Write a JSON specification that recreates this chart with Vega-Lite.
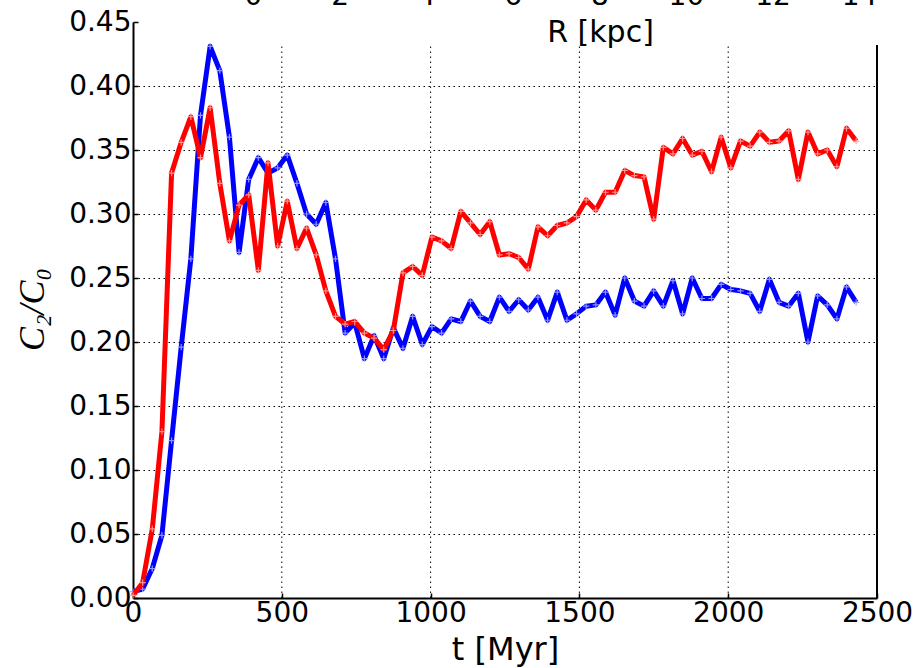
{
  "$schema": "https://vega.github.io/schema/vega-lite/v6.json",
  "width": 744,
  "height": 576,
  "autosize": {"type": "none"},
  "padding": {"left": 133, "top": 22, "right": 44, "bottom": 70},
  "background": "white",
  "config": {"font": "DejaVu Sans", "view": {"stroke": null}},
  "datasets": {
    "c2c0": [
      {"t": 0, "blue": 0.005, "red": 0.002},
      {"t": 32.4, "blue": 0.007, "red": 0.012},
      {"t": 64.8, "blue": 0.023, "red": 0.054},
      {"t": 97.2, "blue": 0.049, "red": 0.130},
      {"t": 129.6, "blue": 0.123, "red": 0.332},
      {"t": 162, "blue": 0.196, "red": 0.356},
      {"t": 194.4, "blue": 0.265, "red": 0.376},
      {"t": 226.8, "blue": 0.377, "red": 0.344},
      {"t": 259.2, "blue": 0.431, "red": 0.383},
      {"t": 291.6, "blue": 0.412, "red": 0.324},
      {"t": 324, "blue": 0.360, "red": 0.279},
      {"t": 356.4, "blue": 0.270, "red": 0.307},
      {"t": 388.8, "blue": 0.327, "red": 0.315},
      {"t": 421.2, "blue": 0.344, "red": 0.256},
      {"t": 453.6, "blue": 0.332, "red": 0.340},
      {"t": 486, "blue": 0.336, "red": 0.275},
      {"t": 518.4, "blue": 0.346, "red": 0.310},
      {"t": 550.8, "blue": 0.324, "red": 0.273},
      {"t": 583.2, "blue": 0.300, "red": 0.289},
      {"t": 615.6, "blue": 0.292, "red": 0.268},
      {"t": 648, "blue": 0.309, "red": 0.240},
      {"t": 680.4, "blue": 0.265, "red": 0.220},
      {"t": 712.8, "blue": 0.207, "red": 0.214},
      {"t": 745.2, "blue": 0.215, "red": 0.216},
      {"t": 777.6, "blue": 0.187, "red": 0.207},
      {"t": 810, "blue": 0.205, "red": 0.203},
      {"t": 842.4, "blue": 0.187, "red": 0.194},
      {"t": 874.8, "blue": 0.211, "red": 0.209},
      {"t": 907.2, "blue": 0.195, "red": 0.254},
      {"t": 939.6, "blue": 0.220, "red": 0.259},
      {"t": 972, "blue": 0.198, "red": 0.252},
      {"t": 1004.4, "blue": 0.212, "red": 0.282},
      {"t": 1036.8, "blue": 0.207, "red": 0.279},
      {"t": 1069.2, "blue": 0.218, "red": 0.273},
      {"t": 1101.6, "blue": 0.216, "red": 0.302},
      {"t": 1134, "blue": 0.232, "red": 0.293},
      {"t": 1166.4, "blue": 0.220, "red": 0.284},
      {"t": 1198.8, "blue": 0.216, "red": 0.294},
      {"t": 1231.2, "blue": 0.235, "red": 0.268},
      {"t": 1263.6, "blue": 0.224, "red": 0.269},
      {"t": 1296, "blue": 0.233, "red": 0.266},
      {"t": 1328.4, "blue": 0.225, "red": 0.257},
      {"t": 1360.8, "blue": 0.235, "red": 0.290},
      {"t": 1393.2, "blue": 0.217, "red": 0.283},
      {"t": 1425.6, "blue": 0.239, "red": 0.291},
      {"t": 1458, "blue": 0.217, "red": 0.293},
      {"t": 1490.4, "blue": 0.222, "red": 0.298},
      {"t": 1522.8, "blue": 0.228, "red": 0.311},
      {"t": 1555.2, "blue": 0.229, "red": 0.303},
      {"t": 1587.6, "blue": 0.239, "red": 0.317},
      {"t": 1620, "blue": 0.221, "red": 0.317},
      {"t": 1652.4, "blue": 0.250, "red": 0.334},
      {"t": 1684.8, "blue": 0.232, "red": 0.330},
      {"t": 1717.2, "blue": 0.228, "red": 0.329},
      {"t": 1749.6, "blue": 0.240, "red": 0.296},
      {"t": 1782, "blue": 0.228, "red": 0.352},
      {"t": 1814.4, "blue": 0.248, "red": 0.347},
      {"t": 1846.8, "blue": 0.222, "red": 0.359},
      {"t": 1879.2, "blue": 0.250, "red": 0.346},
      {"t": 1911.6, "blue": 0.234, "red": 0.349},
      {"t": 1944, "blue": 0.234, "red": 0.333},
      {"t": 1976.4, "blue": 0.245, "red": 0.360},
      {"t": 2008.8, "blue": 0.241, "red": 0.336},
      {"t": 2041.2, "blue": 0.240, "red": 0.357},
      {"t": 2073.6, "blue": 0.238, "red": 0.353},
      {"t": 2106, "blue": 0.224, "red": 0.364},
      {"t": 2138.4, "blue": 0.249, "red": 0.356},
      {"t": 2170.8, "blue": 0.231, "red": 0.357},
      {"t": 2203.2, "blue": 0.228, "red": 0.365},
      {"t": 2235.6, "blue": 0.238, "red": 0.327},
      {"t": 2268, "blue": 0.200, "red": 0.364},
      {"t": 2300.4, "blue": 0.236, "red": 0.347},
      {"t": 2332.8, "blue": 0.229, "red": 0.350},
      {"t": 2365.2, "blue": 0.218, "red": 0.337},
      {"t": 2397.6, "blue": 0.243, "red": 0.367},
      {"t": 2430, "blue": 0.231, "red": 0.357}
    ],
    "vgrid": [{"t": 500}, {"t": 1000}, {"t": 1500}, {"t": 2000}],
    "rspine": [{"t": 2500}],
    "raxis": [{"R": 0}, {"R": 2}, {"R": 4}, {"R": 6}, {"R": 8}, {"R": 10}, {"R": 12}, {"R": 14}]
  },
  "layer": [
    {
      "layer": [
        {
          "data": {"name": "vgrid"},
          "mark": {"type": "rule", "color": "black", "strokeWidth": 1, "strokeDash": [1.5, 3.5]},
          "encoding": {
            "x": {
              "field": "t", "type": "quantitative", "title": "t [Myr]",
              "scale": {"domain": [0, 2500], "nice": false, "zero": false},
              "axis": {
                "values": [0, 500, 1000, 1500, 2000, 2500],
                "format": "d",
                "grid": false,
                "labelFontSize": 28, "labelColor": "black", "labelFlush": false, "labelOverlap": false, "labelBound": false,
                "labelPadding": 6,
                "ticks": true, "tickSize": -5, "tickColor": "black", "tickWidth": 1.5,
                "domainColor": "black", "domainWidth": 2,
                "titleFontSize": 32, "titleFontWeight": "normal", "titleColor": "black",
                "titleBaseline": "alphabetic", "titleY": 61, "titleX": 372, "titleAlign": "center"
              }
            },
            "y": {
              "datum": 0, "type": "quantitative", "title": "C₂/C₀",
              "scale": {"domain": [0, 0.45], "nice": false, "zero": false},
              "axis": {
                "values": [0, 0.05, 0.1, 0.15, 0.2, 0.25, 0.3, 0.35, 0.4, 0.45],
                "format": ".2f",
                "labelFontSize": 28, "labelColor": "black", "labelFlush": false, "labelOverlap": false, "labelBound": false,
                "labelPadding": 7,
                "ticks": true, "tickSize": -5, "tickColor": "black", "tickWidth": 1.5,
                "domainColor": "black", "domainWidth": 2,
                "grid": true, "gridColor": "black", "gridWidth": 1, "gridDash": [1.5, 3.5],
                "gridOpacity": {"condition": {"test": "datum.value < 0.01 || datum.value > 0.44", "value": 0}, "value": 1},
                "titleFont": "Liberation Serif", "titleFontStyle": "italic", "titleFontSize": 36, "titleFontWeight": "normal", "titleColor": "black",
                "titleAngle": -90, "titleX": -101, "titleY": 287, "titleAlign": "center", "titleBaseline": "middle"
              }
            },
            "y2": {"datum": 0.432}
          }
        },
        {
          "data": {"name": "rspine"},
          "mark": {"type": "rule", "color": "black", "strokeWidth": 2},
          "encoding": {
            "x": {"field": "t", "type": "quantitative", "title": "t [Myr]"},
            "y": {"datum": 0, "type": "quantitative", "title": "C₂/C₀"},
            "y2": {"datum": 0.432}
          }
        },
        {
          "data": {"name": "c2c0"},
          "mark": {"type": "line", "color": "#0000ff", "strokeWidth": 5, "strokeJoin": "round"},
          "encoding": {
            "x": {"field": "t", "type": "quantitative", "title": "t [Myr]"},
            "y": {"field": "blue", "type": "quantitative", "title": "C₂/C₀"}
          }
        },
        {
          "data": {"name": "c2c0"},
          "mark": {"type": "point", "shape": "M-1,0H1M0,-1V1", "filled": false, "stroke": "#a0a0ff", "strokeWidth": 1.2, "size": 40, "opacity": 0.9},
          "encoding": {
            "x": {"field": "t", "type": "quantitative", "title": "t [Myr]"},
            "y": {"field": "blue", "type": "quantitative", "title": "C₂/C₀"}
          }
        },
        {
          "data": {"name": "c2c0"},
          "mark": {"type": "line", "color": "#ff0000", "strokeWidth": 5, "strokeJoin": "round"},
          "encoding": {
            "x": {"field": "t", "type": "quantitative", "title": "t [Myr]"},
            "y": {"field": "red", "type": "quantitative", "title": "C₂/C₀"}
          }
        },
        {
          "data": {"name": "c2c0"},
          "mark": {"type": "point", "shape": "M-1,0H1M0,-1V1", "filled": false, "stroke": "#ffa0a0", "strokeWidth": 1.2, "size": 40, "opacity": 0.9},
          "encoding": {
            "x": {"field": "t", "type": "quantitative", "title": "t [Myr]"},
            "y": {"field": "red", "type": "quantitative", "title": "C₂/C₀"}
          }
        }
      ]
    },
    {
      "data": {"name": "raxis"},
      "mark": {"type": "point", "opacity": 0},
      "encoding": {
        "x": {
          "field": "R", "type": "quantitative", "title": "R [kpc]",
          "scale": {"domain": [-2.772, 14.415], "nice": false, "zero": false},
          "axis": {
            "orient": "top", "offset": 18,
            "values": [0, 2, 4, 6, 8, 10, 12, 14],
            "format": "d",
            "domain": false, "ticks": false, "grid": false,
            "labelFontSize": 28, "labelColor": "black", "labelPadding": 0, "labelBaseline": "alphabetic",
            "labelFlush": false, "labelOverlap": false, "labelBound": false,
            "titleFontSize": 30, "titleFontWeight": "normal", "titleColor": "black",
            "titleX": 467, "titleY": 37, "titleAlign": "center", "titleBaseline": "alphabetic"
          }
        }
      }
    }
  ],
  "resolve": {"scale": {"x": "independent"}, "axis": {"x": "independent"}}
}
